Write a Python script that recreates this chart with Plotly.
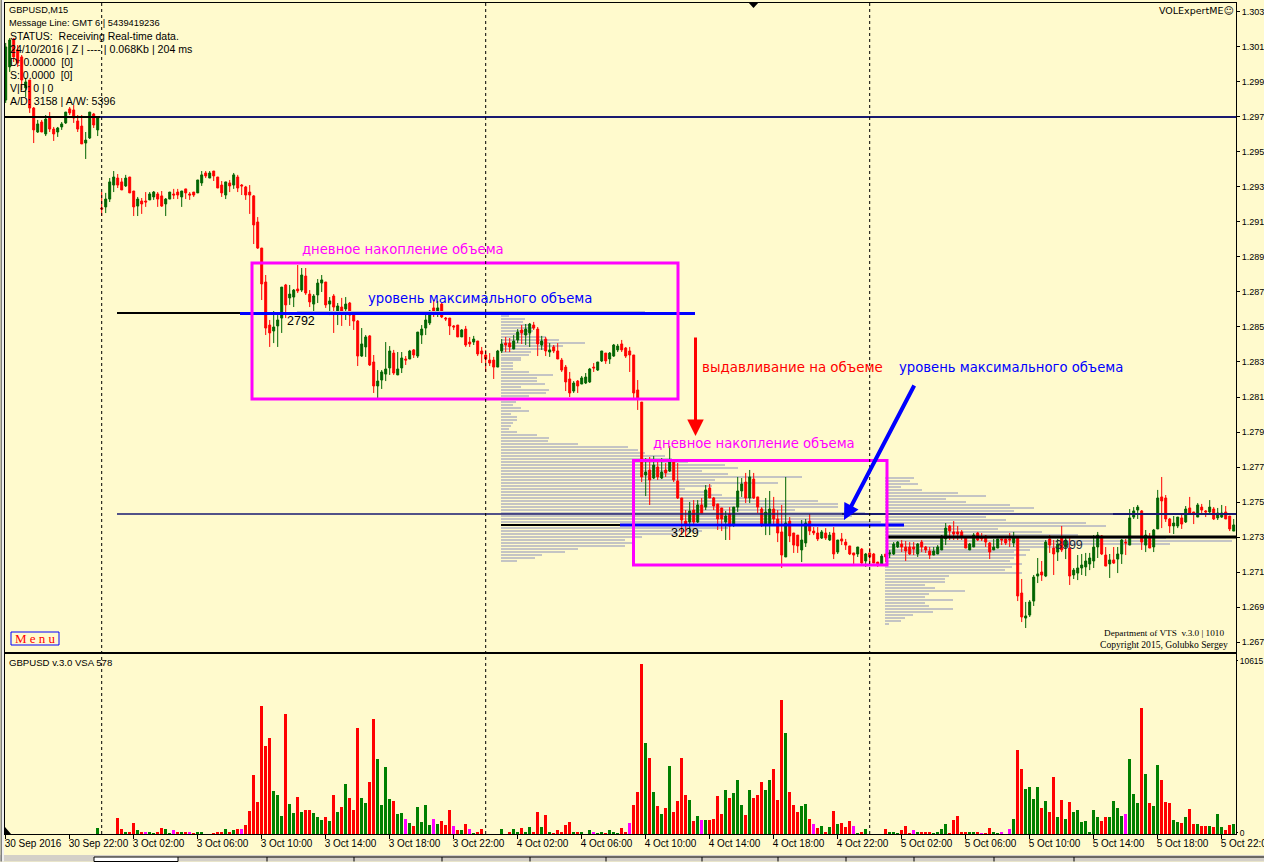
import plotly.graph_objects as go

W, H = 1264, 862
BG = "#FFFACD"

candle_high = [
130123,130151,130151,130111,130054,129923,129911,129757,129683,129683,
129711,129728,129643,129643,129671,129728,129757,129768,129711,129711,
129614,129728,129723,129700,129271,129266,129351,129391,129374,129351,
129369,129357,129277,129243,129237,129271,129271,129277,129271,129277,
129237,129271,129289,129289,129277,129289,129271,129271,129340,129391,
129391,129391,129391,129357,129334,129329,129340,129380,129369,129317,
129306,129311,129254,129128,128951,128797,128540,128591,128568,128728,
128746,128740,128717,128854,128837,128837,128711,128688,128774,128797,
128757,128671,128688,128637,128666,128671,128643,128586,128540,128494,
128454,128454,128340,128254,128254,128414,128391,128369,128357,128357,
128334,128369,128374,128471,128511,128586,128597,128654,128649,128637,
128557,128551,128511,128511,128488,128506,128443,128449,128420,128386,
128369,128351,128329,128369,128431,128443,128437,128454,128488,128511,
128517,128523,128529,128500,128449,128443,128408,128397,128408,128323,
128283,128243,128191,128197,128220,128237,128266,128294,128300,128363,
128351,128357,128403,128403,128426,128386,128386,128340,128197,128071,
127751,127757,127763,127729,127751,127723,127820,127729,127723,127523,
127454,127500,127511,127511,127523,127597,127603,127529,127489,127466,
127449,127471,127471,127643,127637,127666,127683,127666,127529,127471,
127523,127563,127529,127454,127483,127643,127414,127323,127311,127397,
127403,127431,127357,127357,127340,127351,127329,127357,127283,127323,
127289,127249,127209,127243,127237,127209,127237,127209,127157,127203,
127203,127226,127271,127277,127283,127277,127271,127271,127266,127283,
127249,127243,127243,127254,127311,127380,127369,127391,127363,127340,
127300,127266,127323,127329,127323,127311,127271,127289,127289,127289,
127289,127323,127329,127294,127060,126929,126940,127083,127180,127163,
127283,127311,127283,127289,127363,127306,127294,127123,127197,127203,
127209,127209,127311,127329,127311,127243,127203,127243,127243,127289,
127289,127460,127471,127483,127454,127340,127323,127346,127569,127643,
127540,127409,127420,127414,127426,127477,127529,127443,127494,127489,
127454,127511,127471,127466,127483,127477,127420,127403]

body_upper = [
130100,130140,130146,130083,130043,129900,129911,129751,129660,129671,
129688,129700,129631,129637,129660,129728,129746,129740,129677,129648,
129568,129728,129717,129694,129180,129231,129329,129357,129351,129329,
129351,129357,129277,129231,129220,129220,129260,129271,129260,129249,
129231,129271,129260,129271,129277,129289,129260,129271,129340,129369,
129380,129380,129391,129357,129311,129329,129323,129369,129357,129311,
129300,129271,129249,129100,128951,128757,128511,128500,128540,128728,
128740,128688,128711,128717,128797,128791,128688,128677,128751,128769,
128757,128649,128677,128620,128614,128631,128637,128580,128534,128403,
128443,128449,128300,128191,128243,128260,128363,128351,128260,128323,
128317,128363,128369,128471,128488,128540,128591,128609,128609,128631,
128551,128551,128506,128511,128483,128488,128414,128431,128420,128363,
128340,128311,128311,128363,128403,128408,128408,128420,128471,128483,
128488,128517,128511,128488,128420,128431,128369,128386,128363,128311,
128271,128203,128180,128191,128209,128214,128260,128271,128300,128363,
128351,128351,128397,128391,128403,128380,128363,128340,128140,128071,
127671,127683,127711,127700,127671,127683,127729,127729,127620,127523,
127391,127449,127454,127483,127483,127569,127580,127523,127489,127466,
127420,127431,127471,127563,127603,127614,127643,127631,127529,127460,
127443,127460,127460,127403,127329,127380,127391,127323,127311,127283,
127380,127391,127334,127323,127329,127323,127311,127323,127283,127289,
127271,127249,127209,127243,127231,127203,127209,127203,127157,127191,
127203,127209,127260,127271,127260,127243,127243,127243,127260,127271,
127243,127220,127220,127243,127306,127351,127363,127329,127329,127329,
127300,127260,127311,127323,127300,127306,127266,127243,127289,127289,
127289,127289,127294,127294,126980,126849,126929,127071,127089,127100,
127271,127289,127237,127260,127294,127283,127237,127111,127123,127140,
127163,127180,127243,127311,127306,127197,127169,127169,127203,127283,
127271,127409,127449,127471,127449,127311,127294,127340,127523,127529,
127523,127403,127380,127414,127409,127460,127466,127443,127483,127471,
127449,127471,127460,127437,127437,127443,127420,127369]

body_lower = [
129797,129986,130043,130008,129911,129866,129751,129626,129614,129614,
129603,129631,129603,129614,129643,129666,129723,129694,129631,129546,
129551,129580,129654,129626,129174,129186,129231,129311,129311,129283,
129306,129266,129186,129191,129203,129214,129226,129243,129231,129191,
129203,129231,129254,129254,129243,129266,129254,129254,129266,129323,
129363,129351,129363,129294,129266,129254,129306,129311,129294,129306,
129254,129254,129083,128951,128746,128494,128466,128477,128506,128551,
128626,128666,128671,128706,128711,128694,128643,128631,128683,128751,
128626,128631,128614,128586,128591,128603,128568,128534,128334,128334,
128386,128283,128163,128163,128197,128231,128266,128237,128226,128266,
128311,128317,128340,128334,128454,128494,128523,128580,128580,128557,
128546,128506,128500,128443,128443,128397,128403,128414,128346,128346,
128317,128294,128271,128271,128363,128397,128386,128374,128426,128466,
128454,128466,128494,128403,128397,128363,128357,128363,128317,128254,
128186,128123,128134,128163,128174,128180,128186,128266,128254,128306,
128306,128317,128334,128369,128369,128334,128340,128123,128094,127643,
127654,127626,127637,127643,127637,127666,127677,127626,127523,127397,
127374,127386,127386,127386,127437,127471,127523,127477,127403,127403,
127386,127363,127374,127471,127563,127523,127523,127523,127471,127374,
127374,127369,127403,127323,127197,127186,127306,127254,127249,127226,
127266,127334,127323,127289,127294,127294,127283,127203,127214,127277,
127254,127203,127197,127203,127151,127163,127186,127151,127146,127146,
127186,127203,127203,127243,127243,127220,127203,127231,127203,127243,
127226,127197,127197,127203,127226,127289,127334,127317,127317,127300,
127237,127226,127243,127283,127289,127271,127214,127226,127237,127283,
127266,127283,127266,126963,126843,126837,126854,126934,127077,127083,
127077,127254,127203,127214,127226,127243,127077,127083,127094,127123,
127129,127146,127163,127243,127203,127134,127146,127151,127174,127203,
127266,127254,127414,127454,127271,127254,127237,127243,127346,127506,
127403,127363,127363,127363,127374,127386,127437,127431,127414,127454,
127443,127443,127403,127409,127414,127403,127346,127334]

candle_low = [
129780,129957,130014,129986,129854,129814,129723,129551,129609,129614,
129591,129614,129563,129586,129626,129660,129711,129666,129614,129546,
129460,129574,129637,129591,129134,129151,129214,129271,129294,129283,
129300,129266,129134,129134,129146,129186,129226,129226,129186,129186,
129134,129231,129231,129231,129186,129231,129226,129243,129266,129306,
129351,129351,129334,129294,129243,129231,129271,129289,129271,129254,
129226,129146,128974,128946,128654,128454,128386,128408,128386,128466,
128551,128626,128614,128694,128700,128683,128614,128580,128637,128700,
128609,128568,128466,128511,128506,128540,128506,128483,128277,128329,
128329,128277,128123,128094,128146,128191,128226,128226,128226,128237,
128283,128317,128323,128323,128403,128454,128511,128557,128557,128551,
128534,128454,128483,128443,128443,128386,128386,128397,128334,128294,
128243,128277,128203,128271,128351,128357,128357,128374,128408,128403,
128397,128386,128483,128334,128369,128334,128329,128351,128317,128243,
128134,128100,128123,128123,128174,128174,128180,128243,128249,128300,
128289,128289,128329,128357,128357,128323,128243,128094,128026,127614,
127534,127483,127631,127626,127631,127643,127671,127614,127517,127311,
127300,127323,127369,127380,127437,127454,127523,127454,127340,127334,
127283,127283,127357,127443,127529,127494,127494,127517,127437,127357,
127311,127311,127369,127271,127123,127186,127271,127209,127209,127157,
127243,127311,127311,127277,127289,127283,127277,127174,127203,127254,
127226,127197,127146,127186,127146,127129,127151,127151,127129,127146,
127157,127180,127197,127237,127214,127163,127197,127197,127186,127214,
127209,127174,127197,127203,127226,127254,127283,127283,127283,127283,
127237,127226,127243,127277,127277,127243,127174,127226,127237,127254,
127254,127243,127243,126934,126814,126780,126843,126906,127037,127049,
127071,127209,127083,127163,127214,127174,127026,127060,127054,127083,
127077,127111,127123,127180,127197,127134,127066,127146,127094,127146,
127197,127254,127403,127403,127226,127214,127237,127214,127346,127351,
127386,127323,127317,127351,127346,127380,127426,127374,127414,127426,
127414,127426,127397,127397,127409,127403,127334,127334]

candle_direction = (
"ggrrrgrrgrgrrgggrrrrggrg"
"rgggrrgrrgrrggrrggrrgrrrggrgrrrgrgrr"
"rrrrrrrggg" "rggrgrrggg" "rgrgrgrrrg" "grrggggrgg" "rgrggggr"
"grrrrrgrrgrr"
"rrrggrrggr" "ggrrgrgrrr" "rrgrgggrgg" "rgggrrrrrr"
"grgrgrgrrr" "rgrgrgrrrr" "grgggrgrrr" "ggrrrgrrrg" "grrrgrgrgr"
"rrrgrgrrrg" "rgggrrrrgr" "rrggggrrrr" "rggrrrrggr" "rrgrrggggr"
"grrgrgrggg" "ggggrrgrgg" "rgggrgrggr" "rrggrgrrgr" "rgrggrrg")

volume = [
0,0,0,0,0,0,0,0,0,0,0,0,0,0,0,0,0,0,0,0,0,0,0,375,0,0,0,0,
999,312,187,125,687,250,187,187,187,62,187,375,312,62,250,125,125,125,125,62,187,187,30,30,62,125,125,312,125,250,312,312,
562,1436,3684,1998,7992,5495,5994,2685,2435,1124,7493,1873,1311,2310,1374,1499,1499,1311,1061,874,
1061,812,2435,1374,1686,3122,2248,1499,6618,2248,1936,3247,7181,4683,1811,4183,2185,2060,1249,1311,
937,687,500,1686,749,1811,562,937,624,812,562,1499,500,250,250,624,312,62,187,312,0,0,0,0,
312,30,187,312,125,375,187,437,187,1374,437,1186,187,62,250,125,562,749,187,187,125,30,250,125,62,187,
62,250,125,62,375,187,687,1811,2622,10615,5682,4745,2622,1748,1249,1623,4246,1374,2060,4745,
2435,2123,812,1124,874,874,874,937,2373,1249,2747,2248,2560,3372,1811,1186,2747,2248,2435,3247,
2747,3372,4059,2123,8367,6306,2622,1811,1374,1748,1873,937,624,375,500,187,437,1436,624,
687,437,812,500,62,187,312,0,0,0,0,
312,187,125,62,250,500,62,250,125,125,125,125,62,187,312,624,62,874,1124,125,187,125,125,125,62,62,375,125,62,125,30,312,937,
5245,4059,2810,2935,2185,2935,1623,2060,1374,3559,1061,2123,937,1998,1374,1499,749,812,187,1499,
1061,812,1061,1061,2060,1623,1124,1249,4683,2498,1936,7867,3746,1936,1748,4308,3372,1998,1936,874,
749,687,1061,1561,624,624,500,500,500,437,1249,437,250,562,624]

volume_class = (
"-----------------------g----"
"rrgrrgrmggrrggmrgrmrggrgrrrgrgrm"
"rrrrrrrggg" "rggrgrrggg" "rgrgrgrrrg" "grrggggrgg" "mgrg"
"gggmgrrrmrgrmgrr"
"----"
"grrggrggrr" "grgrrrrrgr" "grgmggrggg" "rrmrrr"
"grgrgrgrrr" "rgrgmgrrrr" "grgggrgrrr" "ggrrrgrrrg" "grmrgrgrg"
"rrrmgrg"
"----"
"rgggrrrmgr" "rrggggrrrr" "rggrmrrggm" "rmg"
"rrggggrgrr" "grgrgggggg" "grrggggmgg" "grgrggrrrg" "grgrrgrrgr" "ggrrg")

profile1_volume = [8,24,22,30,33,32,30,45,58,84,62,45,30,28,20,20,12,12,12,28,52,36,36,44,20,48,45,28,40,15,
12,20,28,10,16,16,12,10,8,16,36,48,47,77,127,137,144,164,171,187,224,237,201,227,301,214,277,211,184,207,
221,254,317,337,337,294,364,351,344,380,386,227,201,177,141,124,134,124,77,64,41,34,16]
profile2_volume = [29,25,33,16,37,73,101,61,81,125,149,129,205,101,121,201,221,113,157,193,281,347,285,185,145,
129,141,129,125,137,127,120,137,64,60,60,40,50,80,44,40,68,40,44,68,48,28,20,16,4]
profile1_top, profile2_top, profile_step = 1.28569, 1.27643, 0.000171
profile1_start_bar, profile2_start_bar = 123.8, 219.8

price_ticks = [1.267,1.269,1.271,1.273,1.275,1.277,1.279,1.281,1.283,1.285,1.287,1.289,1.291,1.293,1.295,1.297,1.299,1.301,1.303]
time_tick_bars = list(range(0, 308, 16))
time_tick_labels = ["30 Sep 2016","30 Sep 22:00","3 Oct 02:00","3 Oct 06:00","3 Oct 10:00","3 Oct 14:00","3 Oct 18:00","3 Oct 22:00",
 "4 Oct 02:00","4 Oct 06:00","4 Oct 10:00","4 Oct 14:00","4 Oct 18:00","4 Oct 22:00",
 "5 Oct 02:00","5 Oct 06:00","5 Oct 10:00","5 Oct 14:00","5 Oct 18:00","5 Oct 22:00"]
day_separators = [24, 120, 216]

bars = list(range(len(candle_high)))
high = [v/1e5 for v in candle_high]
low = [v/1e5 for v in candle_low]
opens = [(u if d == "r" else l)/1e5 for u, l, d in zip(body_upper, body_lower, candle_direction)]
closes = [(l if d == "r" else u)/1e5 for u, l, d in zip(body_upper, body_lower, candle_direction)]

def X(x): return x/W
def Y(y): return 1-y/H

fig = go.Figure()
thick = 0.00008
for top, vols, start in ((profile1_top, profile1_volume, profile1_start_bar), (profile2_top, profile2_volume, profile2_start_bar)):
    fig.add_trace(go.Bar(orientation="h", y=[top-k*profile_step for k in range(len(vols))], x=[v/4 for v in vols], base=start,
                         width=thick, marker=dict(color="#C4C4C4", line=dict(width=0)), xaxis="x", yaxis="y", hoverinfo="skip", showlegend=False))
fig.add_trace(go.Candlestick(x=bars, open=opens, high=high, low=low, close=closes, xaxis="x", yaxis="y", showlegend=False,
    increasing=dict(line=dict(color="#006400", width=1), fillcolor="#006400"),
    decreasing=dict(line=dict(color="#FF0000", width=1), fillcolor="#FF0000"), whiskerwidth=0))
colmap = {"r": "#FF0000", "g": "#008000", "m": "#FF00FF", "-": "rgba(0,0,0,0)"}
fig.add_trace(go.Bar(x=bars, y=volume, width=0.74, marker=dict(color=[colmap[c] for c in volume_class], line=dict(width=0)),
                     xaxis="x2", yaxis="y2", showlegend=False))

# ---- level lines, boxes
shapes = []
def hline(x0, x1, y, c, w):
    shapes.append(dict(type="line", xref="paper", yref="paper", x0=X(x0), x1=X(x1), y0=Y(y), y1=Y(y), line=dict(color=c, width=w)))
def rect(x0, y0, x1, y1, c, w, fill=None):
    shapes.append(dict(type="rect", xref="paper", yref="paper", x0=X(x0), x1=X(x1), y0=Y(y0), y1=Y(y1), line=dict(color=c, width=w), fillcolor=fill))
NAVY = "#191970"
hline(5, 100, 117, "#000000", 2); hline(100, 1236, 117, NAVY, 2)
hline(297, 645, 311.5, "#BEBEBE", 1)
hline(117, 245, 313, "#000000", 2); hline(240, 695, 313.5, "#0000FF", 3)
hline(117, 1113, 514, NAVY, 1.3); hline(842, 886, 514, NAVY, 2); hline(1113, 1236, 514, NAVY, 2)
hline(501, 622, 525, "#000000", 2); hline(620, 904, 525, "#0000FF", 3)
hline(888, 1236, 537, "#000000", 3)
rect(252, 263, 678, 399, "#FF00FF", 3)
rect(633.5, 460.5, 887, 565, "#FF00FF", 3)
for b in day_separators:
    shapes.append(dict(type="line", xref="x", yref="paper", x0=b, x1=b, y0=Y(834), y1=Y(3), line=dict(color="#000000", width=1, dash="3px,3px")))
# window furniture
rect(0, 855, W, H-0.5, "#808080", 0, "#D4D0C8")
rect(94, 857, 178, H-0.5, "#000000", 1, "#FFFFFF")
for sx in (267, 354, 442, 530, 606, 702, 778, 846, 914, 994, 1074):
    shapes.append(dict(type="line", xref="paper", yref="paper", x0=X(sx), x1=X(sx), y0=Y(857), y1=Y(861.5), line=dict(color="#000000", width=1)))
hline(178, W, 857, "#000000", 1)
rect(0.5, 0, 2, H-0.5, "#808080", 0, "#808080")
rect(2, 0, 4, H-0.5, "#F0F0F0", 0, "#F0F0F0")
def tri(points, c="#000000"):
    path = "M " + " L ".join(f"{X(a)} {Y(b)}" for a, b in points) + " Z"
    shapes.append(dict(type="path", xref="paper", yref="paper", path=path, fillcolor=c, line=dict(width=0)))
tri([(748, 2), (759, 2), (753.5, 8)])
tri([(5, 827), (5, 834), (11, 834)])
rect(11, 632, 59, 645, "#0000FF", 1)

# ---- text
anns = []
def txt(x, y, s, size=10.5, color="#000000", fam="Liberation Sans", anchor="left"):
    anns.append(dict(xref="paper", yref="paper", x=X(x), y=Y(y), text=s, showarrow=False, xanchor=anchor, yanchor="middle",
                     font=dict(size=size, color=color, family=fam), borderpad=0, bgcolor="rgba(0,0,0,0)"))
head = [(8, 10, "GBPUSD,M15", 9.2), (8, 23, "Message Line: GMT 6 | 5439419236", 9.3), (9, 36, "STATUS:  Receiving Real-time data.", 10.5),
        (9, 49, "24/10/2016 | Z | ---- | 0.068Kb | 204 ms", 10.6), (9, 62, "D: 0.0000  [0]", 10.5), (9, 75, "S: 0.0000  [0]", 10.5),
        (9, 88, "V|D: 0 | 0", 10.5), (9, 101, "A/D: 3158 | A/W: 5396", 10.7)]
for x, y, s, z in head:
    txt(x, y, s.replace("  ", "\u00a0 "), z)
txt(8, 662, "GBPUSD v.3.0 VSA 578", 9.6)
txt(1158, 11, "VOLExpertME\u263a", 9.5, fam="DejaVu Sans")
txt(1225, 633, "Department of VTS\u00a0 v.3.0 | 1010", 9.2, fam="Liberation Serif", anchor="right")
txt(1229, 644, "Copyright 2015, Golubko Sergey", 9.6, fam="Liberation Serif", anchor="right")
txt(35, 638.5, "M e n u", 13, "#FF0000", "Liberation Serif", "center")
F = "DejaVu Sans"
txt(301, 249, "дневное накопление объема", 13.2, "#FF00FF", F)
txt(652, 443, "дневное накопление объема", 13.2, "#FF00FF", F)
txt(367, 298, "уровень максимального объема", 13.2, "#0000FF", F)
txt(898, 367, "уровень максимального объема", 13.2, "#0000FF", F)
txt(701, 367, "выдавливание на объеме", 13.4, "#FF0000", F)
txt(286, 321, "2792", 12.5, fam="Liberation Sans")
txt(670, 533, "3229", 12.5, fam="Liberation Sans")
txt(1054, 545, "3999", 12.5, "#1A2A3A", "Liberation Sans")
def arrow(x0, y0, x1, y1, c, w, size):
    anns.append(dict(xref="paper", yref="paper", x=X(x1), y=Y(y1), ax=x0-x1, ay=y0-y1, text="", showarrow=True,
                     arrowhead=2, arrowsize=size, arrowwidth=w, arrowcolor=c))
arrow(695.5, 336, 695.5, 436, "#FF0000", 3, 1.1)
arrow(915, 384, 844, 520, "#0000FF", 4, 0.8)

TICK = dict(family="Liberation Sans", size=9, color="#000000")
TIMEFONT = dict(family="Liberation Sans", size=10, color="#000000")
fig.update_layout(
    width=W, height=H, margin=dict(l=0, r=0, t=0, b=0, autoexpand=False), autosize=False,
    paper_bgcolor=BG, plot_bgcolor=BG, barmode="overlay", showlegend=False, bargap=0,
    shapes=shapes, annotations=anns,
    xaxis=dict(domain=[X(5), X(1236)], range=[-0.175, 307.575], anchor="y", showgrid=False, zeroline=False, showticklabels=False, ticks="", automargin=False,
               showline=True, linecolor="#000000", linewidth=1, mirror=True, rangeslider=dict(visible=False), fixedrange=True),
    yaxis=dict(domain=[Y(652), Y(2.5)], range=[1.26643, 1.30354], anchor="x", side="right", tickvals=price_ticks, ticktext=[f"{p:.3f}" for p in price_ticks], automargin=False,
               ticks="outside", ticklen=3, tickcolor="#000000", showgrid=False, zeroline=False, showline=True, linecolor="#000000", linewidth=1, mirror=True, tickfont=TICK),
    xaxis2=dict(domain=[X(5), X(1236)], range=[-0.175, 307.575], anchor="y2", showgrid=False, zeroline=False, tickvals=time_tick_bars, ticktext=time_tick_labels, automargin=False,
                ticks="outside", ticklen=4, tickcolor="#000000", ticklabelposition="outside right", ticklabeloverflow="allow", ticklabelshift=-2, tickfont=TIMEFONT, tickangle=0,
                showline=True, linecolor="#000000", linewidth=1, mirror=True),
    yaxis2=dict(domain=[Y(834), Y(653.5)], range=[0, 11250], anchor="x2", side="right", tickvals=[72, 10790], ticktext=["0", "10615"], ticks="outside", ticklen=1, automargin=False,
                tickcolor="#000000", showgrid=False, zeroline=False, showline=True, linecolor="#000000", linewidth=1, mirror=True,
                tickfont=dict(family="Liberation Sans", size=8.5, color="#000000")),
)
fig.write_html("out.html", config=dict(displayModeBar=False),
    post_script="var s=document.createElement('style');s.textContent='html,body{margin:0;padding:0;overflow:hidden;width:1264px;height:862px}';document.head.appendChild(s);var g=document.querySelector('.plotly-graph-div');g.style.width='1264px';g.style.height='862px';g.style.overflow='hidden';")
